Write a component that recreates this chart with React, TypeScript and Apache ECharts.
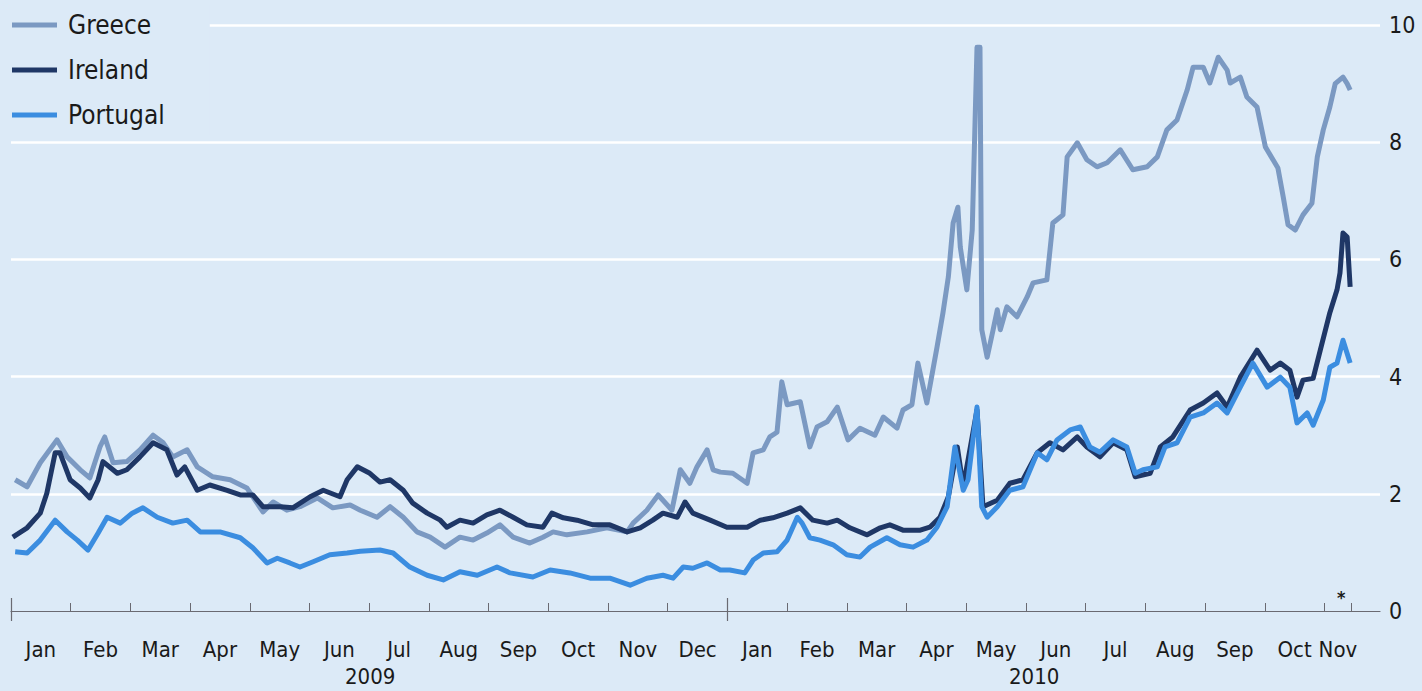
import React, { useEffect, useRef } from "react";
import * as echarts from "echarts";

// x = months since 1 Jan 2009 (0 = Jan 2009, 12 = Jan 2010), y = spread, percentage points
const greece: [number, number][] = [
  [0.07, 2.24], [0.27, 2.12], [0.49, 2.53], [0.77, 2.92], [0.94, 2.63], [1.16, 2.41], [1.32, 2.27],
  [1.49, 2.8], [1.57, 2.97], [1.71, 2.53], [1.94, 2.55], [2.16, 2.75], [2.38, 3.0], [2.55, 2.87],
  [2.71, 2.63], [2.95, 2.75], [3.12, 2.46], [3.38, 2.29], [3.67, 2.24], [3.95, 2.1], [4.22, 1.69],
  [4.39, 1.86], [4.62, 1.72], [4.84, 1.78], [5.13, 1.93], [5.39, 1.76], [5.68, 1.81], [5.85, 1.72],
  [6.13, 1.6], [6.35, 1.78], [6.57, 1.6], [6.8, 1.35], [7.02, 1.26], [7.27, 1.09], [7.52, 1.26],
  [7.74, 1.21], [7.97, 1.33], [8.19, 1.47], [8.41, 1.26], [8.69, 1.16], [8.91, 1.26], [9.08, 1.35],
  [9.31, 1.3], [9.65, 1.35], [9.98, 1.42], [10.32, 1.35], [10.42, 1.5], [10.65, 1.72], [10.84, 1.98],
  [11.07, 1.72], [11.21, 2.41], [11.37, 2.18], [11.49, 2.46], [11.66, 2.75], [11.76, 2.41], [11.88, 2.37],
  [12.09, 2.35], [12.33, 2.18], [12.43, 2.7], [12.6, 2.75], [12.71, 2.97], [12.83, 3.05], [12.91, 3.91],
  [13.0, 3.52], [13.22, 3.57], [13.38, 2.8], [13.5, 3.14], [13.67, 3.23], [13.84, 3.48], [14.02, 2.92],
  [14.22, 3.12], [14.47, 3.0], [14.61, 3.31], [14.84, 3.12], [14.94, 3.43], [15.09, 3.52], [15.19, 4.23],
  [15.34, 3.55], [15.51, 4.5], [15.61, 5.09], [15.7, 5.7], [15.78, 6.62], [15.86, 6.89], [15.9, 6.21],
  [16.01, 5.48], [16.1, 6.5], [16.18, 9.62], [16.23, 9.62], [16.26, 4.8], [16.35, 4.33], [16.45, 4.8],
  [16.52, 5.14], [16.57, 4.8], [16.68, 5.19], [16.85, 5.02], [17.02, 5.36], [17.12, 5.6], [17.35, 5.65],
  [17.45, 6.62], [17.62, 6.76], [17.69, 7.75], [17.86, 7.99], [18.02, 7.7], [18.19, 7.58], [18.36, 7.65],
  [18.58, 7.87], [18.79, 7.53], [19.03, 7.58], [19.2, 7.75], [19.36, 8.21], [19.53, 8.38], [19.7, 8.89],
  [19.8, 9.28], [19.97, 9.28], [20.08, 9.01], [20.22, 9.45], [20.37, 9.23], [20.42, 9.01], [20.59, 9.11],
  [20.7, 8.77], [20.87, 8.6], [21.01, 7.92], [21.22, 7.56], [21.31, 7.06], [21.39, 6.59], [21.51, 6.5],
  [21.64, 6.76], [21.79, 6.96], [21.88, 7.75], [21.98, 8.21], [22.09, 8.6], [22.18, 9.0], [22.31, 9.11],
  [22.38, 9.0], [22.43, 8.89],
];

const ireland: [number, number][] = [
  [0.03, 1.26], [0.27, 1.42], [0.49, 1.67], [0.6, 2.01], [0.74, 2.7], [0.82, 2.7], [0.99, 2.24],
  [1.16, 2.1], [1.32, 1.93], [1.46, 2.24], [1.54, 2.55], [1.78, 2.35], [1.94, 2.41], [2.16, 2.63],
  [2.38, 2.87], [2.61, 2.75], [2.78, 2.32], [2.91, 2.46], [3.12, 2.06], [3.33, 2.15], [3.62, 2.06],
  [3.84, 1.98], [4.05, 1.98], [4.22, 1.78], [4.51, 1.78], [4.72, 1.76], [5.01, 1.95], [5.23, 2.06],
  [5.51, 1.95], [5.63, 2.24], [5.8, 2.46], [6.01, 2.35], [6.18, 2.2], [6.35, 2.24], [6.57, 2.06],
  [6.73, 1.84], [6.97, 1.67], [7.19, 1.55], [7.3, 1.43], [7.52, 1.55], [7.74, 1.5], [7.97, 1.64],
  [8.19, 1.72], [8.41, 1.6], [8.64, 1.47], [8.91, 1.43], [9.06, 1.67], [9.25, 1.59], [9.48, 1.55],
  [9.75, 1.47], [10.03, 1.47], [10.32, 1.35], [10.54, 1.42], [10.75, 1.55], [10.92, 1.67], [11.16, 1.6],
  [11.29, 1.86], [11.42, 1.67], [11.71, 1.55], [11.99, 1.43], [12.33, 1.43], [12.55, 1.55], [12.76, 1.59],
  [13.0, 1.67], [13.22, 1.76], [13.43, 1.55], [13.67, 1.5], [13.84, 1.55], [14.05, 1.42], [14.34, 1.3],
  [14.56, 1.42], [14.72, 1.47], [14.94, 1.38], [15.23, 1.38], [15.39, 1.43], [15.56, 1.6], [15.7, 1.95],
  [15.85, 2.8], [15.95, 2.12], [16.18, 3.43], [16.28, 1.78], [16.52, 1.89], [16.73, 2.18], [16.95, 2.24],
  [17.19, 2.7], [17.4, 2.87], [17.62, 2.75], [17.86, 2.97], [18.02, 2.8], [18.24, 2.63], [18.46, 2.87],
  [18.69, 2.75], [18.83, 2.29], [19.08, 2.35], [19.25, 2.8], [19.46, 2.97], [19.75, 3.43], [19.97, 3.55],
  [20.2, 3.72], [20.37, 3.48], [20.59, 3.99], [20.87, 4.45], [21.09, 4.11], [21.26, 4.23], [21.42, 4.11],
  [21.54, 3.65], [21.64, 3.94], [21.81, 3.97], [21.93, 4.45], [22.09, 5.09], [22.21, 5.48], [22.26, 5.77],
  [22.31, 6.45], [22.38, 6.38], [22.43, 5.53],
];

const portugal: [number, number][] = [
  [0.07, 1.01], [0.27, 0.99], [0.49, 1.21], [0.74, 1.55], [0.94, 1.35], [1.11, 1.21], [1.29, 1.04],
  [1.46, 1.33], [1.61, 1.6], [1.83, 1.5], [2.03, 1.67], [2.21, 1.76], [2.45, 1.6], [2.71, 1.5],
  [2.95, 1.55], [3.17, 1.35], [3.5, 1.35], [3.84, 1.25], [4.05, 1.08], [4.29, 0.82], [4.46, 0.9],
  [4.67, 0.82], [4.84, 0.75], [5.06, 0.84], [5.34, 0.96], [5.63, 0.99], [5.85, 1.02], [6.18, 1.04],
  [6.4, 0.99], [6.68, 0.75], [6.97, 0.61], [7.24, 0.53], [7.52, 0.67], [7.81, 0.61], [8.14, 0.75],
  [8.36, 0.65], [8.74, 0.58], [9.03, 0.7], [9.36, 0.65], [9.7, 0.56], [10.03, 0.56], [10.37, 0.44],
  [10.65, 0.56], [10.92, 0.61], [11.09, 0.56], [11.26, 0.75], [11.42, 0.73], [11.66, 0.82], [11.88, 0.7],
  [12.04, 0.7], [12.29, 0.65], [12.43, 0.87], [12.6, 0.99], [12.83, 1.01], [13.0, 1.21], [13.17, 1.6],
  [13.25, 1.5], [13.38, 1.25], [13.55, 1.21], [13.77, 1.13], [14.0, 0.96], [14.22, 0.92], [14.39, 1.09],
  [14.67, 1.25], [14.89, 1.13], [15.11, 1.09], [15.34, 1.21], [15.51, 1.43], [15.68, 1.78], [15.81, 2.8],
  [15.95, 2.06], [16.03, 2.24], [16.18, 3.48], [16.26, 1.78], [16.35, 1.6], [16.52, 1.78], [16.73, 2.06],
  [16.95, 2.12], [17.19, 2.7], [17.35, 2.58], [17.52, 2.92], [17.74, 3.09], [17.91, 3.14], [18.07, 2.8],
  [18.24, 2.71], [18.46, 2.92], [18.69, 2.8], [18.83, 2.35], [18.96, 2.41], [19.2, 2.46], [19.33, 2.8],
  [19.53, 2.87], [19.75, 3.31], [19.97, 3.38], [20.2, 3.55], [20.37, 3.38], [20.59, 3.82], [20.8, 4.23],
  [21.04, 3.82], [21.26, 3.99], [21.42, 3.82], [21.54, 3.21], [21.71, 3.38], [21.81, 3.17], [21.98, 3.6],
  [22.09, 4.16], [22.21, 4.23], [22.31, 4.62], [22.43, 4.23],
];

const monthNames = ["Jan", "Feb", "Mar", "Apr", "May", "Jun", "Jul", "Aug", "Sep", "Oct", "Nov", "Dec"];
const monthLabels = [...monthNames, ...monthNames.slice(0, 11)];
const lastDataMonth = 22.45;
const monthTicks = [1, 2, 3, 4, 5, 6, 7, 8, 9, 10, 11, 13, 14, 15, 16, 17, 18, 19, 20, 21, 22, lastDataMonth];
const yearTicks = [0, 12];
const labelPositions = monthLabels.map((_, i) => (i < 22 ? i + 0.5 : (22 + lastDataMonth) / 2));
const yearLabels = ["2009", "2010"];
const yTicks = [0, 2, 4, 6, 8, 10];

const FONT = "'DejaVu Sans Condensed', 'Liberation Sans Narrow', 'DejaVu Sans', sans-serif";
const BG = "#dceaf7";
const X_MAX = 22.93;

export default function App() {
  const ref = useRef<HTMLDivElement>(null);
  useEffect(() => {
    if (!ref.current) return;
    const chart = echarts.init(ref.current, undefined, { renderer: "svg" });
    const baseX = {
      type: "value" as const,
      min: 0,
      max: X_MAX,
      position: "bottom" as const,
      offset: 0,
      splitLine: { show: false },
    };
    chart.setOption({
      animation: false,
      backgroundColor: BG,
      textStyle: { fontFamily: FONT },
      grid: { left: 11, right: 42, top: 25, bottom: 80 },
      legend: {
        orient: "vertical",
        left: 7,
        top: 5,
        padding: [5, 45, 5, 5],
        backgroundColor: BG,
        itemWidth: 45,
        itemHeight: 5,
        itemGap: 15,
        icon: "rect",
        textStyle: { fontFamily: FONT, fontSize: 26, color: "#1a1a1a", lineHeight: 30, padding: [0, 0, 0, 6] },
        data: ["Greece", "Ireland", "Portugal"],
      },
      xAxis: [
        {
          ...baseX,
          axisLine: { show: true, lineStyle: { color: "#6a6a72", width: 1.2 } },
          axisTick: { show: true, inside: true, length: 8, customValues: monthTicks, lineStyle: { color: "#6a6a72" } },
          axisLabel: { show: false },
        },
        {
          ...baseX,
          axisLine: { show: false },
          axisTick: { show: true, inside: true, length: 13, customValues: yearTicks, lineStyle: { color: "#6a6a72", width: 1.2 } },
          axisLabel: { show: false },
        },
        {
          ...baseX,
          axisLine: { show: false },
          axisTick: { show: true, inside: false, length: 10, customValues: yearTicks, lineStyle: { color: "#6a6a72", width: 1.2 } },
          axisLabel: {
            show: true,
            customValues: labelPositions,
            margin: 27,
            fontFamily: FONT,
            fontSize: 22,
            color: "#1a1a1a",
            formatter: (v: number) => {
              const i = labelPositions.findIndex((p) => Math.abs(p - v) < 1e-6);
              return i >= 0 ? monthLabels[i] : "";
            },
          },
        },
      ],
      yAxis: {
        type: "value",
        position: "right",
        min: 0,
        max: 10,
        interval: 2,
        axisLine: { show: false },
        axisTick: { show: false },
        axisLabel: {
          margin: 9,
          fontFamily: FONT,
          fontSize: 23,
          color: "#1a1a1a",
          customValues: yTicks,
        },
        splitLine: { show: true, showMinLine: false, lineStyle: { color: "#ffffff", width: 2.5 } },
      },
      graphic: [
        {
          type: "text",
          left: 373 - 28,
          top: 665,
          style: { text: yearLabels[0], fontFamily: FONT, fontSize: 22, fill: "#1a1a1a" },
        },
        {
          type: "text",
          left: 1037 - 28,
          top: 665,
          style: { text: yearLabels[1], fontFamily: FONT, fontSize: 22, fill: "#1a1a1a" },
        },
        {
          type: "text",
          left: 1337,
          top: 588,
          style: { text: "*", fontFamily: FONT, fontSize: 18, fontWeight: "bold", fill: "#1a1a1a" },
        },
      ],
      series: [
        {
          name: "Greece",
          type: "line",
          data: greece,
          showSymbol: false,
          color: "#7b99c2",
          lineStyle: { width: 5, color: "#7b99c2", join: "round" },
        },
        {
          name: "Ireland",
          type: "line",
          data: ireland,
          showSymbol: false,
          color: "#1f3766",
          lineStyle: { width: 5, color: "#1f3766", join: "round" },
        },
        {
          name: "Portugal",
          type: "line",
          data: portugal,
          showSymbol: false,
          color: "#3b8de0",
          lineStyle: { width: 5, color: "#3b8de0", join: "round" },
        },
      ],
    });
    return () => chart.dispose();
  }, []);
  return (
    <div
      ref={ref}
      style={{ position: "fixed", left: 0, top: 0, width: 1422, height: 691, background: BG }}
    />
  );
}
